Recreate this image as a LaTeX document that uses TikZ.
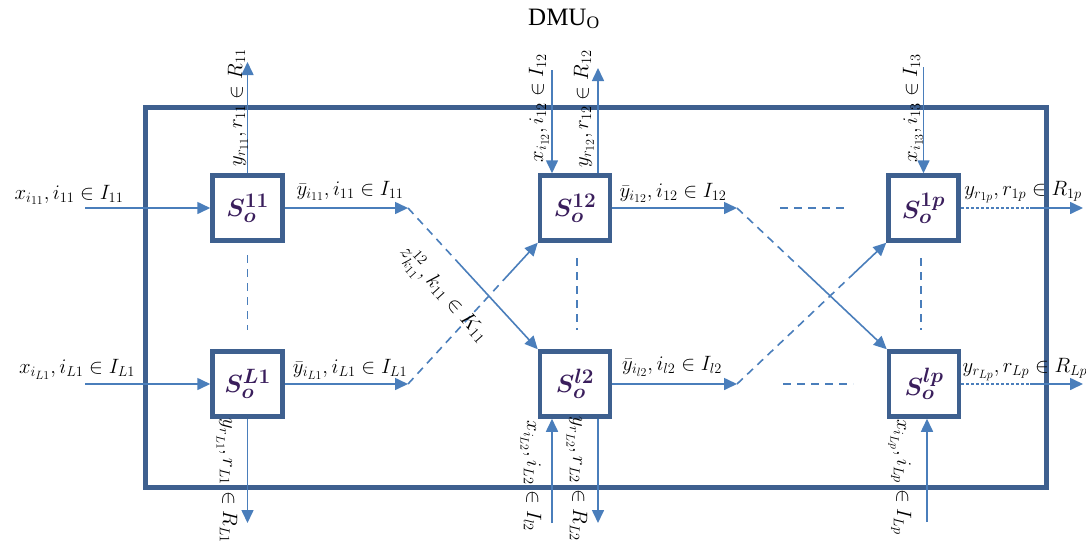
\documentclass[tikz,border=0pt]{standalone}
\usepackage{fontspec}
\usepackage{amsmath,bm}
\newfontfamily\timesf{Liberation Serif}
\usetikzlibrary{arrows.meta,calc}
\definecolor{frameblue}{RGB}{62,96,143}
\definecolor{arrowblue}{RGB}{74,126,187}
\definecolor{nodetext}{RGB}{58,30,92}
\begin{document}
\begin{tikzpicture}[x=1pt,y=-1pt,
  proc/.style={draw=frameblue,line width=4.5pt,fill=white,minimum width=70pt,minimum height=65pt,inner sep=0pt,text=nodetext,font=\fontsize{24.88}{28}\selectfont},
  flow/.style={arrowblue,line width=1.6pt},
  arr/.style={flow,-{Triangle[length=13pt,width=12pt]}},
  dsh/.style={flow,dash pattern=on 8pt off 6pt},
  dens/.style={flow,dash pattern=on 3pt off 2pt},
  lab/.style={font=\fontsize{20.74}{24}\selectfont,inner sep=0pt,anchor=base},
  frame/.style={draw=frameblue,line width=5pt,minimum width=901pt,minimum height=380pt,inner sep=0pt},
]
\useasboundingbox (0,0) rectangle (1086,544);
% title
\node[anchor=base west,inner sep=0pt,font=\fontsize{25}{28}\timesf] (title) at (528,25) {DMU\textsubscript{O}};
% outer frame
\node[frame] (dmu) at (595.5,297) {};
% processes
\node[proc] (s11) at (247.5,208) {$\bm{S_o^{11}}$};
\node[proc] (sL1) at (247.5,384) {$\bm{S_o^{L1}}$};
\node[proc] (s12) at (575,208) {$\bm{S_o^{12}}$};
\node[proc] (sl2) at (575,384) {$\bm{S_o^{l2}}$};
\node[proc] (s1p) at (923.5,208) {$\bm{S_o^{1p}}$};
\node[proc] (slp) at (924,384) {$\bm{S_o^{lp}}$};
% free ends
\coordinate (in11) at (85,208);
\coordinate (inL1) at (85,384);
\coordinate (out11) at (247.5,62);
\coordinate (outL1) at (247.5,523);
\coordinate (a1) at (408,208);
\coordinate (a2) at (408,384);
\coordinate (in12) at (552,70);
\coordinate (out12) at (598,68);
\coordinate (inl2) at (552,523);
\coordinate (outl2) at (598,523);
\coordinate (a3) at (737,208);
\coordinate (a4) at (737,384);
\coordinate (h1a) at (780,208);
\coordinate (h1b) at (847,208);
\coordinate (h2a) at (783,384);
\coordinate (h2b) at (853,384);
\coordinate (in13) at (923.5,67);
\coordinate (inLp) at (927,522);
\coordinate (d1p) at (1030,208);
\coordinate (e1p) at (1083,208);
\coordinate (dLp) at (1030,384);
\coordinate (eLp) at (1083,384);
\coordinate (v1a) at (247.5,255);
\coordinate (v1b) at (247.5,330);
\coordinate (v2a) at (577,258);
\coordinate (v2b) at (577,330);
\coordinate (v3a) at (921,258);
\coordinate (v3b) at (921,330);
% column 1
\draw[arr] (in11) -- (s11.west);
\draw[arr] (inL1) -- (sL1.west);
\draw[arr] (s11.north) -- (out11);
\draw[arr] (sL1.south) -- (outL1);
\draw[arr] (s11.east) -- (a1);
\draw[arr] (sL1.east) -- (a2);
\draw[dsh] (v1a) -- (v1b);
% crossing links 1
\draw[dsh] (a1) -- ($(a1)!0.4!(sl2.north west)$) coordinate (m1);
\draw[arr] (m1) -- (sl2.north west);
\draw[dsh] (a2) -- ($(a2)!0.75!(s12.south west)$) coordinate (m2);
\draw[arr] (m2) -- (s12.south west);
% column 2
\draw[arr] (in12) -- (in12 |- s12.north);
\draw[arr] (out12 |- s12.north) -- (out12);
\draw[arr] (inl2) -- (inl2 |- sl2.south);
\draw[arr] (outl2 |- sl2.south) -- (outl2);
\draw[arr] (s12.east) -- (a3);
\draw[arr] (sl2.east) -- (a4);
\draw[dsh] (v2a) -- (v2b);
% crossing links 2
\draw[dsh] (a3) -- ($(a3)!0.42!(slp.north west)$) coordinate (m3);
\draw[arr] (m3) -- (slp.north west);
\draw[dsh] (a4) -- ($(a4)!0.78!(s1p.south west)$) coordinate (m4);
\draw[arr] (m4) -- (s1p.south west);
\draw[dsh] (h1a) -- (h1b);
\draw[dsh] (h2a) -- (h2b);
% column 3
\draw[arr] (in13) -- (s1p.north);
\draw[arr] (inLp) -- (inLp |- slp.south);
\draw[dens] (s1p.east) -- (d1p);
\draw[arr] (d1p) -- (e1p);
\draw[dens] (slp.east) -- (dLp);
\draw[arr] (dLp) -- (eLp);
\draw[dsh] (v3a) -- (v3b);
% horizontal labels
\node[lab] (lx11) at (69,199) {$x_{i_{11}}, i_{11}\in I_{11}$};
\node[lab] (lxL1) at (77,373) {$x_{i_{L1}}, i_{L1}\in I_{L1}$};
\node[lab] (lyb11) at (350,195) {$\bar{y}_{i_{11}}, i_{11}\in I_{11}$};
\node[lab] (lybL1) at (350,373) {$\bar{y}_{i_{L1}}, i_{L1}\in I_{L1}$};
\node[lab] (lyb12) at (673,197) {$\bar{y}_{i_{12}}, i_{12}\in I_{12}$};
\node[lab] (lybl2) at (672,370) {$\bar{y}_{i_{l2}}, i_{l2}\in I_{l2}$};
\node[lab] (ly1p) at (1023,195) {$y_{r_{1p}}, r_{1p}\in R_{1p}$};
\node[lab] (lyLp) at (1025,372) {$y_{r_{Lp}}, r_{Lp}\in R_{Lp}$};
% rotated labels
\node[lab,rotate=90] (ly11) at (242,108) {$y_{r_{11}}, r_{11}\in R_{11}$};
\node[lab,rotate=90] (lx12) at (543,108) {$x_{i_{12}}, i_{12}\in I_{12}$};
\node[lab,rotate=90] (ly12) at (588,109) {$y_{r_{12}}, r_{12}\in R_{12}$};
\node[lab,rotate=90] (lx13) at (917,108) {$x_{i_{13}}, i_{13}\in I_{13}$};
\node[lab,rotate=-90] (lyL1) at (223,481) {$y_{r_{L1}}, r_{L1}\in R_{L1}$};
\node[lab,rotate=-90] (lxL2) at (527,476) {$x_{i_{L2}}, i_{L2}\in I_{l2}$};
\node[lab,rotate=-90] (lyL2) at (573,479) {$y_{r_{L2}}, r_{L2}\in R_{L2}$};
\node[lab,rotate=-90] (lxLp) at (897,477) {$x_{i_{Lp}}, i_{Lp}\in I_{Lp}$};
\node[lab,anchor=center,rotate=-48] (lz) at (443,295) {$z^{12}_{k_{11}}, k_{11}\in K_{11}$};
\end{tikzpicture}
\end{document}
